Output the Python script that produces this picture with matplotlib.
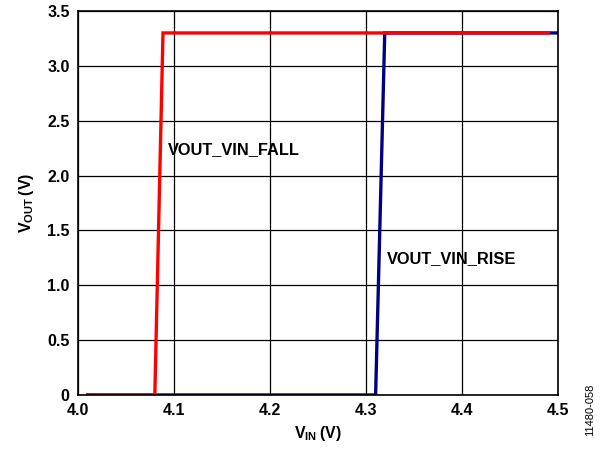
import matplotlib
matplotlib.use("Agg")
import matplotlib.pyplot as plt

plt.rcParams['font.family'] = ['Liberation Sans', 'DejaVu Sans']
plt.rcParams['font.weight'] = 'bold'
plt.rcParams['mathtext.fontset'] = 'custom'
plt.rcParams['mathtext.rm'] = 'Liberation Sans:bold'
plt.rcParams['mathtext.bf'] = 'Liberation Sans:bold'

# VIN sweep (V) and output voltage (V)
vin_fall = [4.010, 4.080, 4.0885, 4.490]
vout_fall = [0.0, 0.0, 3.30, 3.30]
vin_rise = [4.010, 4.310, 4.3195, 4.500]
vout_rise = [0.0, 0.0, 3.30, 3.30]

xticks = [4.0, 4.1, 4.2, 4.3, 4.4, 4.5]
yticks = [0, 0.5, 1.0, 1.5, 2.0, 2.5, 3.0, 3.5]
ytick_labels = ["0", "0.5", "1.0", "1.5", "2.0", "2.5", "3.0", "3.5"]

fig = plt.figure(figsize=(6.03, 4.51), dpi=100)
ax = fig.add_axes([0.1294, 0.1242, 0.796, 0.8514])

ax.plot(vin_rise, vout_rise, color='#000080', lw=2.4, solid_joinstyle='miter')
ax.plot(vin_fall, vout_fall, color='#ff0000', lw=2.4, solid_joinstyle='miter')

ax.set_xlim(4.0, 4.5)
ax.set_ylim(0, 3.5)
ax.set_xticks(xticks)
ax.set_xticklabels(["%.1f" % x for x in xticks])
ax.set_yticks(yticks)
ax.set_yticklabels(ytick_labels)
ax.tick_params(length=0, labelsize=11.5, pad=6)
ax.grid(True, color='black', lw=0.9)
ax.set_axisbelow(True)
for s in ax.spines.values():
    s.set_linewidth(1.2)

ax.set_xlabel(r'$\mathbf{V_{IN}\,(V)}$', fontsize=11.5, labelpad=4)
ax.set_ylabel(r'$\mathbf{V_{OUT}\,(V)}$', fontsize=11.5, labelpad=8)

ax.text(4.0935, 2.24, 'VOUT_VIN_FALL', fontsize=11.8, va='center')
ax.text(4.322, 1.24, 'VOUT_VIN_RISE', fontsize=11.8, va='center')

fig.text(0.979, 0.092, '11480-058', rotation=90, fontsize=8, fontweight='normal',
         ha='center', va='center')

fig.savefig('out.png', dpi=100)
